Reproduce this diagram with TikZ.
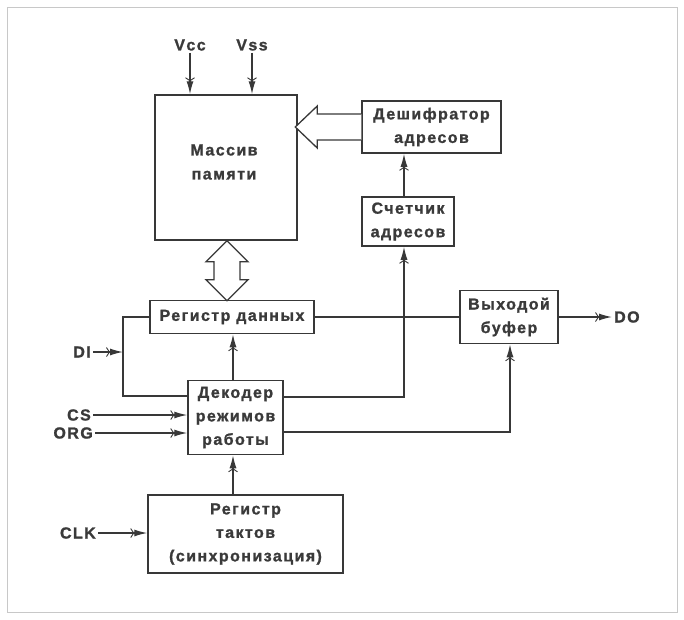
\documentclass[tikz,border=0pt]{standalone}
\usepackage{fontspec}
\newfontfamily\dfont{Liberation Sans}[LetterSpace=9, UprightFont={Liberation Sans Bold}, FakeBold=1.2]
\usetikzlibrary{arrows.meta}
\definecolor{ink}{HTML}{383838}
\definecolor{txt}{HTML}{3A3A3A}
\definecolor{frm}{HTML}{C8C8C8}
\begin{document}
\begin{tikzpicture}[x=1pt,y=-1pt,
  blk/.style n args={2}{draw=ink, line width=1.5pt, minimum width=#1, minimum height=#2,
    inner sep=0pt, align=center, text=txt, font=\dfont\fontsize{16}{23.5}\selectfont},
  txtb/.style={inner sep=0pt, align=center, text=txt, font=\dfont\fontsize{16}{24}\selectfont},
  lab/.style={inner sep=2pt, text=txt, font=\dfont\fontsize{16}{18}\selectfont},
  wire/.style={draw=ink, line width=1.3pt},
  sig/.style={wire, -{Straight Barb[length=3pt,width=9pt,line width=0.9pt]Latex[length=13pt,width=7pt]}},
  hollow/.style={draw=ink, line width=1.3pt, fill=white, line join=miter}]
\useasboundingbox (0,0) rectangle (684,619);
\fill[white] (0,0) rectangle (684,619);
\draw[frm, line width=1pt] (7,7) rectangle (677,612);

% blocks
\node[blk={142pt}{145pt}] (mass) at (226,167.5) {};
\node[txtb] (masst) at (224,162) {Массив\\памяти};
\node[blk={139pt}{52pt}] (desh) at (431.5,127) {Дешифратор\\адресов};
\node[blk={92pt}{49pt}] (sch) at (408,221.5) {Счетчик\\адресов};
\node[blk={164pt}{33pt}] (reg) at (232,317) {Регистр данных};
\node[blk={98pt}{53pt}] (buf) at (509,317) {Выходой\\буфер};
\node[blk={95pt}{74pt}] (dec) at (235.5,417.5) {Декодер\\режимов\\работы};
\node[blk={195pt}{78pt}] (takt) at (245.5,534) {Регистр\\тактов\\(синхронизация)};

% labels
\node[lab] (vcc) at (190,45) {Vcc};
\node[lab] (vss) at (252,45) {Vss};
\node[lab, anchor=east] (di) at (93,352) {DI};
\node[lab, anchor=east] (cs) at (93,415) {CS};
\node[lab, anchor=east] (org) at (95,433) {ORG};
\node[lab, anchor=east] (clk) at (98,533) {CLK};
\node[lab, anchor=west] (do) at (612,317) {DO};

% helper coordinates
\coordinate (jdi) at (123,352);
\coordinate (lp) at (123,396);
\coordinate (c1) at (404,397);
\coordinate (c2) at (510,432);
\coordinate (c3) at (233,0);
\coordinate (dbx) at (227,0);

% power inputs
\draw[sig] (vcc.south) -- (vcc.south |- mass.north);
\draw[sig] (vss.south) -- (vss.south |- mass.north);

% hollow address bus arrow
\draw[hollow] (desh.west) ++(0,-13) -- ++(-44,0) -- ++(0,-8) -- ++(-22,21)
  -- ++(22,21) -- ++(0,-8) -- ++(44,0);

% hollow bidirectional data bus
\draw[hollow] (mass.south -| dbx) -- ++(-21,21) -- ++(8,0) -- ++(0,18) -- ++(-8,0)
  -- ++(21,21) -- ++(21,-21) -- ++(-8,0) -- ++(0,-18) -- ++(8,0) -- cycle;

% connectors
\draw[sig] (sch.north -| c1) -- (desh.south -| c1);
\draw[sig] (dec.east |- c1) -| (sch.south -| c1);
\draw[sig] (dec.east |- c2) -| (buf.south -| c2);
\draw[wire] (reg.east) -- (reg.east -| buf.west);
\draw[sig] (buf.east) -- (do.west);
\draw[sig] (dec.north -| c3) -- (reg.south -| c3);
\draw[sig] (takt.north -| c3) -- (dec.south -| c3);
\draw[wire] (reg.west) -| (lp) -- (lp -| dec.west);
\draw[sig] (di.east) -- (jdi);
\draw[sig] (cs.east) -- (cs.east -| dec.west);
\draw[sig] (org.east) -- (org.east -| dec.west);
\draw[sig] (clk.east) -- (clk.east -| takt.west);
\end{tikzpicture}
\end{document}
